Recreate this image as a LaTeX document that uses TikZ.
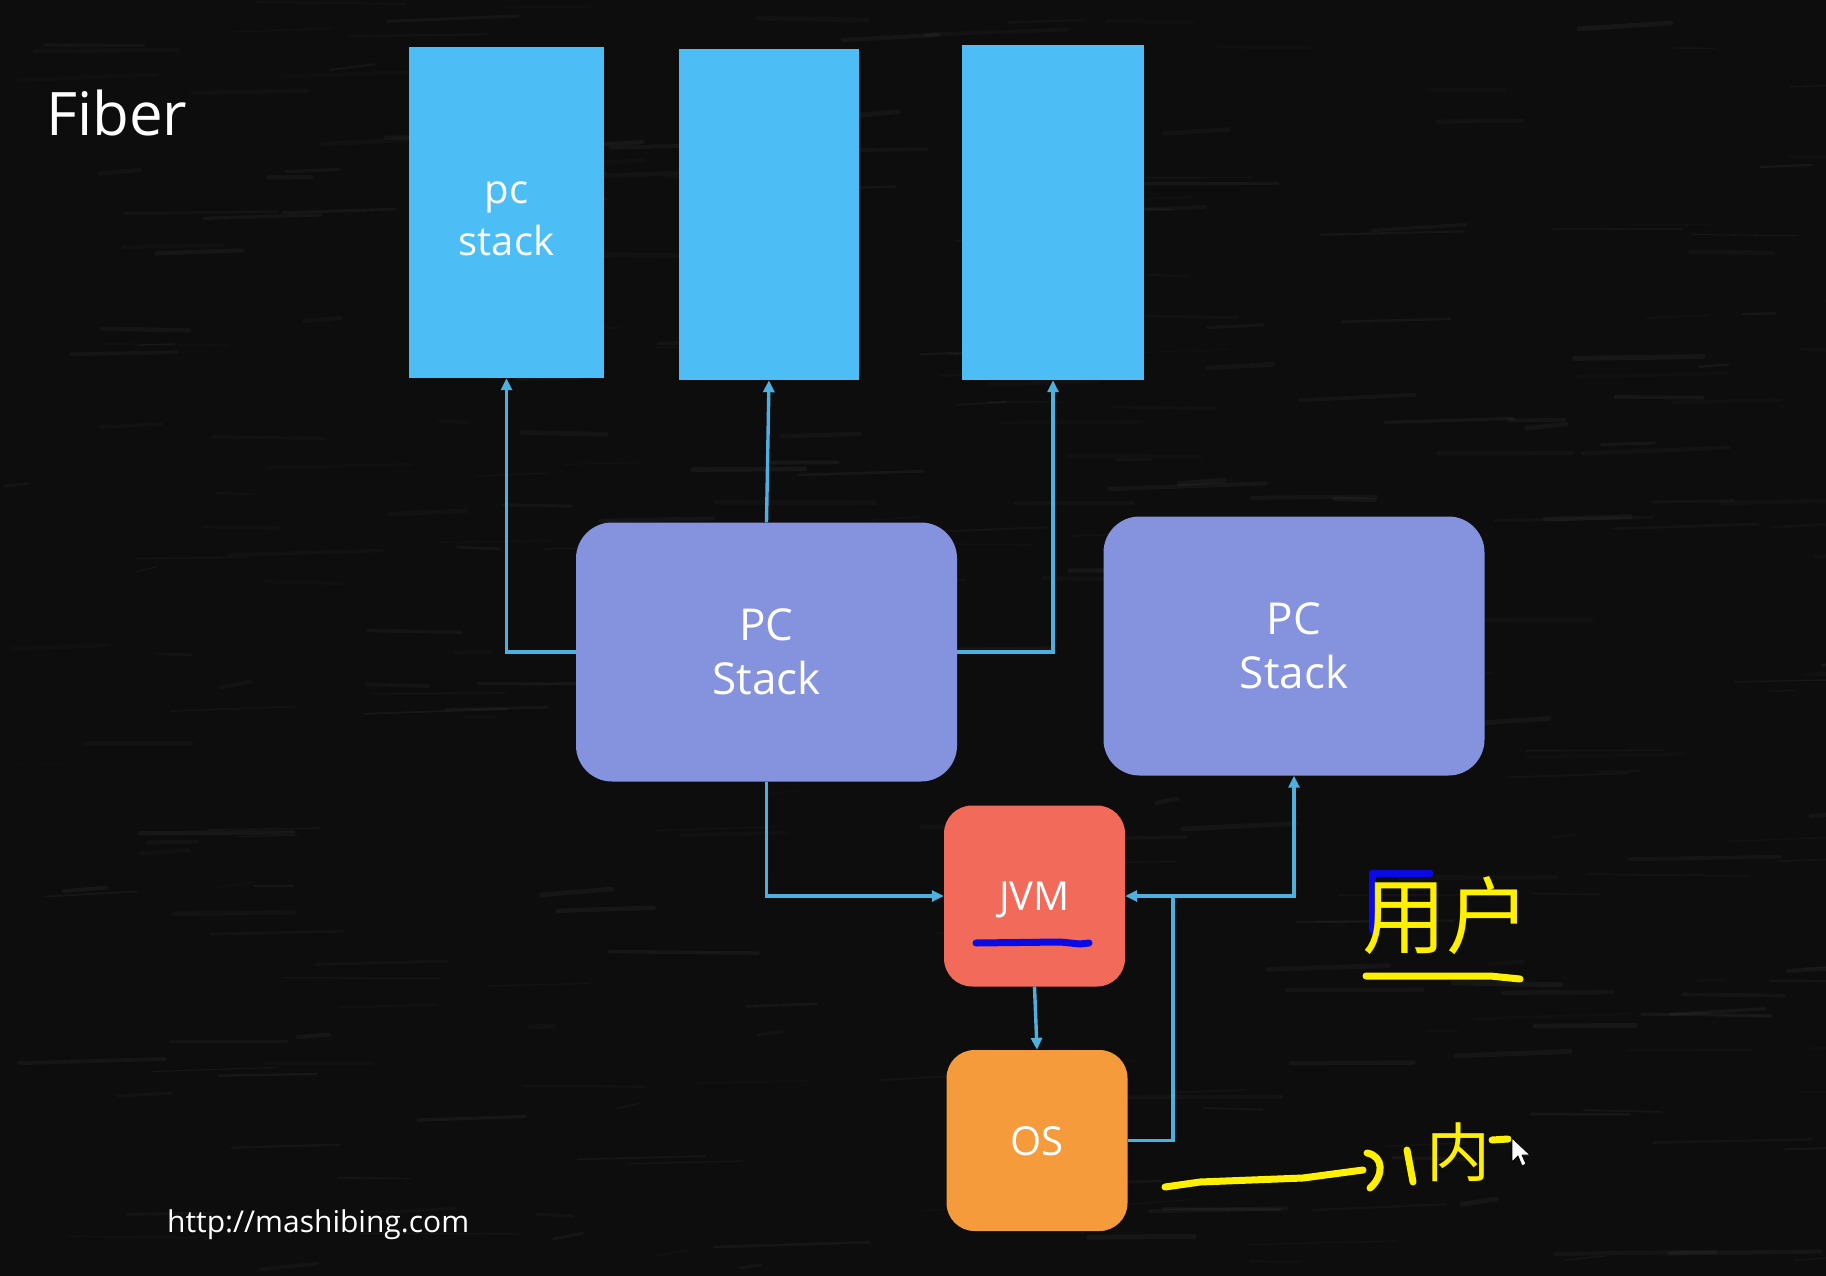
\documentclass[tikz,border=0pt]{standalone}
\usepackage{fontspec}
\setmainfont{Open Sans}
\newfontfamily\cjkfont{Noto Sans CJK SC}
\usetikzlibrary{arrows.meta}
\definecolor{board}{HTML}{0D0D0D}
\definecolor{skyblue}{HTML}{4DBDF6}
\definecolor{lavender}{HTML}{8592DE}
\definecolor{jvmred}{HTML}{F26A5A}
\definecolor{osorange}{HTML}{F59B3B}
\definecolor{wirecol}{HTML}{4FB0DE}
\definecolor{marker}{HTML}{FFF000}
\definecolor{pen}{HTML}{0A0AE6}
\begin{document}
\begin{tikzpicture}[x=1pt,y=-1pt,
  stackbox/.style={fill=skyblue, draw=none, text=white, inner sep=0pt},
  boxlabel/.style={text=white, inner sep=0pt, align=center},
  pcbox/.style={fill=lavender, draw=none, rounded corners=36pt, text=white,
    font=\fontsize{44}{54}\selectfont, align=center,
    minimum width=381pt, minimum height=259pt, inner sep=0pt},
  sysbox/.style={draw=none, rounded corners=28pt,
    minimum width=181pt, minimum height=181pt, inner sep=0pt},
  wire/.style={draw=wirecol, line width=3.4pt},
  link/.style={wire, -{Triangle[length=12pt,width=11pt]}},
  ink/.style={draw=marker, line width=7pt, line cap=round, line join=round},
]
% chalkboard
\useasboundingbox (0,0) rectangle (1826,1276);
\fill[board] (0,0) rectangle (1826,1276);
\pgfmathsetseed{42}
\foreach \i in {1,...,320}{
  \pgfmathsetmacro\xa{rnd*1826}
  \pgfmathsetmacro\ya{rnd*1276}
  \pgfmathsetmacro\len{20+rnd*140}
  \pgfmathsetmacro\tilt{-6+rnd*8}
  \pgfmathsetmacro\wd{1+rnd*4}
  \pgfmathsetmacro\op{0.015+rnd*0.03}
  \draw[white, opacity=\op, line width=\wd pt, line cap=round]
    (\xa,\ya) -- ++(\len,\tilt);
}

% title and footer
\node[anchor=base west, text=white, font=\fontsize{60}{68}\selectfont, inner sep=0pt]
  (title) at (46,136) {Fiber};
\node[anchor=base west, text=white, font=\fontsize{30}{34}\selectfont, inner sep=0pt]
  (url) at (167,1232) {http://mashibing.com};

% fiber stacks
\node[stackbox, minimum width=195pt, minimum height=331pt] (box1) at (506.5,212.5) {};
\node[boxlabel, font=\fontsize{40}{52}\selectfont] (box1text) at (506.5,219) {pc\\stack};
\node[stackbox, minimum width=180pt, minimum height=331pt] (box2) at (769,214.5) {};
\node[stackbox, minimum width=182pt, minimum height=335pt] (box3) at (1053,212.5) {};

% threads
\node[pcbox] (pc1) at (766.5,652) {PC\\Stack};
\node[pcbox] (pc2) at (1294,646) {PC\\Stack};

% runtime and kernel
\node[sysbox, fill=jvmred] (jvm) at (1034.5,896) {};
\node[boxlabel, font=\fontsize{40}{48}\selectfont] (jvmtext) at (1034.5,900) {JVM};
\node[sysbox, fill=osorange] (os) at (1037,1140.5) {};
\node[boxlabel, font=\fontsize{40}{48}\selectfont] (ostext) at (1037,1141) {OS};

% connectors
\draw[link] (pc1.west) -| (box1.south);
\draw[link] (pc1.north) -- (box2.south);
\draw[link] (pc1.east) -| (box3.south);
\draw[link] (pc1.south) |- (jvm.west);
\coordinate (split) at (1173,896);
\draw[wire] (os.east) -| (split);
\draw[link] (split) -- (jvm.east);
\draw[link] (split) -| (pc2.south);
\draw[link] (jvm.south) -- (os.north);

% pen marks
\draw[draw=pen, line width=7pt, line cap=round]
  (976,943) -- (1060,942) -- (1080,944) -- (1089,943);
\draw[draw=pen, line width=7pt, line cap=round, line join=round]
  (1372,930) -- (1372,873) -- (1430,873);
\node[text=marker, font=\cjkfont\fontsize{84}{90}\selectfont, inner sep=0pt]
  (user) at (1446,916) {用户};
\draw[ink] (1366,976) -- (1490,976) -- (1520,979);

\draw[ink] (1165,1187) -- (1200,1182) -- (1303,1178) -- (1363,1170);
\draw[ink] (1367,1153) .. controls (1384,1156) and (1384,1176) .. (1370,1188);
\draw[ink] (1407,1150) -- (1413,1182);
\node[text=marker, font=\cjkfont\fontsize{64}{70}\selectfont, inner sep=0pt]
  (kern) at (1458,1152) {内};
\draw[ink] (1492,1140) -- (1508,1139);

% pointer
\filldraw[fill=white, draw=black, line width=0.8pt, line join=round]
  (1512,1138) -- (1512,1162) -- (1518,1156) -- (1522,1166) -- (1526,1164)
  -- (1522,1155) -- (1530,1155) -- cycle;
\end{tikzpicture}
\end{document}
